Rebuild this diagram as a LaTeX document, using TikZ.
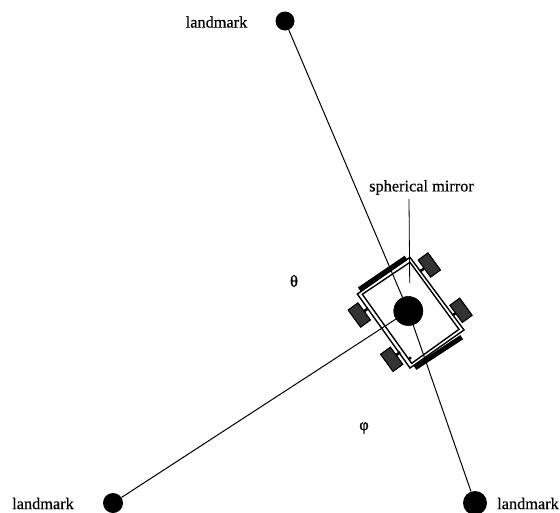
\documentclass[tikz,border=0pt]{standalone}
\usepackage{fontspec}
\setmainfont{Liberation Serif}[RawFeature={embolden=0.35}]
\newfontfamily\grkfont{Liberation Serif}[RawFeature={embolden=1.6}]
\begin{document}
\begin{tikzpicture}[x=1pt,y=-1pt,
  mark/.style={circle,fill=black,inner sep=0pt,minimum size=#1},
  link/.style={line width=1pt,black},
  body/.style={line width=1.4pt,black},
  wheel/.style={rectangle,fill=black!80,draw=black,line width=1pt,inner sep=0pt,minimum width=21pt,minimum height=12pt,rotate=-54},
  axle/.style={line width=2.6pt,black},
  track/.style={line width=5pt,black},
  lbl/.style={inner sep=0pt,font=\fontsize{16.3}{18}\selectfont}]
\clip (0,0) rectangle (560,512);
\fill[white] (0,0) rectangle (560,512);
% landmarks
\node[mark=19pt] (lmT) at (285,21) {};
\node[mark=20pt] (lmL) at (113,503) {};
\node[mark=24pt] (lmR) at (475,503) {};
\node[mark=29.5pt] (mir) at (408.3,311) {};
% connectors
\draw[link] (lmT) -- (mir);
\draw[link] (lmL) -- (mir);
\draw[link] (lmR) -- (mir);
% robot body
\coordinate (oT) at (410,257.3); \coordinate (oR) at (464,330);
\coordinate (oB) at (410,368);   \coordinate (oL) at (357.3,294);
\coordinate (iT) at (410,262.3); \coordinate (iR) at (459,329.3);
\coordinate (iB) at (411.7,363.3); \coordinate (iL) at (362.3,294.3);
\draw[body] (oT) -- (oR) -- (oB) -- (oL) -- cycle;
\draw[body] (iT) -- (iR) -- (iB) -- (iL) -- cycle;
% tracks
\coordinate (t1a) at (359.3,289.5); \coordinate (t1b) at (406,257.8);
\coordinate (t2a) at (415,367.8); \coordinate (t2b) at (461.7,337.2);
\draw[track] (t1a) -- (t1b);
\draw[track] (t2a) -- (t2b);
% wheels
\coordinate (a1) at (420.4,271.1);
\coordinate (a2) at (452.8,315);
\coordinate (a3) at (367.9,308.4);
\coordinate (a4) at (400,352);
\node[wheel] (w1) at (429.3,265) {};
\node[wheel] (w2) at (461,310.3) {};
\node[wheel] (w3) at (359.3,315) {};
\node[wheel] (w4) at (391.7,359.3) {};
\draw[axle] (w1.center) -- (a1);
\draw[axle] (w2.center) -- (a2);
\draw[axle] (w3.center) -- (a3);
\draw[axle] (w4.center) -- (a4);
\node[wheel] at (w1) {};
\node[wheel] at (w2) {};
\node[wheel] at (w3) {};
\node[wheel] at (w4) {};
\node[mark=29.5pt] at (mir) {};
\node[mark=3.5pt] (dot) at (410,358) {};
% labels
\node[lbl] (t1) at (216.5,22) {landmark};
\node[lbl] (t2) at (43,503.5) {landmark};
\node[lbl] (t3) at (528,503.5) {landmark};
\node[lbl] (sm) at (421.5,187.5) {spherical mirror};
\node[lbl,font=\grkfont\fontsize{16.3}{18}\selectfont] (th) at (294,281) {θ};
\node[lbl,font=\grkfont\fontsize{16.3}{18}\selectfont] (ph) at (364,428) {φ};
\coordinate (tip) at (409.7,283);
\draw[line width=0.8pt] (sm.south -| tip) ++(-0.7,4) -- (tip);
\end{tikzpicture}
\end{document}
